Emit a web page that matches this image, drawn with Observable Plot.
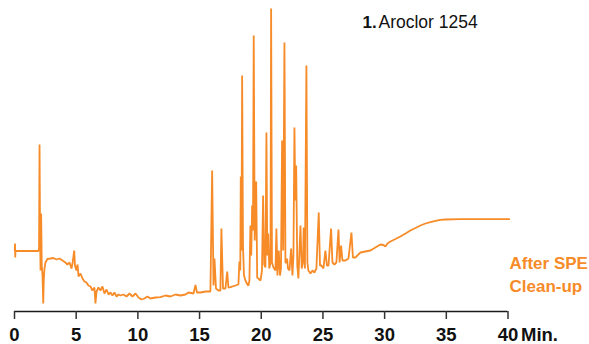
<!DOCTYPE html>
<html>
<head>
<meta charset="utf-8">
<script src="https://cdn.jsdelivr.net/npm/d3@7"></script>
<script src="https://cdn.jsdelivr.net/npm/@observablehq/plot@0.6"></script>
<style>
  html, body { margin: 0; padding: 0; background: #ffffff; }
  #chart svg { display: block; }
</style>
</head>
<body>
<div id="chart"></div>
<script>
// Retention time (minutes)
const timeMin = [
  0.02, 0.04, 0.06, 0.08, 1.94, 1.99, 2.03, 2.07, 2.11, 2.16, 2.21, 2.27, 2.33, 2.37, 2.43, 2.51,
  2.67, 2.92, 3.16, 3.40, 3.65, 3.89, 4.13, 4.29, 4.46, 4.62, 4.70, 4.84, 4.90, 5.02, 5.11, 5.19,
  5.35, 5.51, 5.67, 5.83, 5.99, 6.16, 6.32, 6.48, 6.56, 6.65, 6.81, 6.97, 7.13, 7.29, 7.46, 7.62,
  7.78, 7.94, 8.10, 8.27, 8.43, 8.59, 8.83, 9.08, 9.32, 9.56, 9.81, 10.05, 10.29, 10.53, 10.78, 11.02,
  11.43, 11.83, 12.24, 12.64, 13.05, 13.45, 13.86, 14.10, 14.51, 14.67, 14.79, 15.07, 15.48, 15.88,
  16.02, 16.13, 16.21, 16.33, 16.53, 16.69, 16.77, 16.90, 17.10, 17.24, 17.34, 17.50, 17.91, 18.15,
  18.23, 18.30, 18.34, 18.40, 18.45, 18.52, 18.60, 18.72, 18.88, 18.96, 19.04, 19.12, 19.19, 19.26,
  19.33, 19.39, 19.47, 19.59, 19.67, 19.77, 19.94, 20.06, 20.15, 20.24, 20.34, 20.42, 20.49, 20.56,
  20.65, 20.75, 20.80, 20.87, 20.99, 21.15, 21.23, 21.31, 21.42, 21.52, 21.60, 21.69, 21.78, 21.88,
  21.96, 22.04, 22.10, 22.16, 22.29, 22.42, 22.53, 22.61, 22.69, 22.76, 22.83, 22.92, 23.01, 23.18,
  23.28, 23.38, 23.44, 23.54, 23.66, 23.74, 23.82, 23.99, 24.15, 24.31, 24.47, 24.66, 24.76, 24.88,
  25.04, 25.20, 25.32, 25.45, 25.66, 25.77, 25.93, 26.09, 26.26, 26.35, 26.47, 26.58, 26.82, 27.07,
  27.31, 27.43, 27.63, 28.04, 28.44, 28.85, 29.25, 29.66, 29.90, 30.06, 30.23, 30.47, 30.88, 31.28,
  31.69, 32.09, 32.50, 32.90, 33.31, 33.71, 34.12, 34.52, 34.93, 36.14, 37.76, 39.38, 40.10
];
// Detector response (arbitrary units)
const signal = [
  61, 68, 54, 60.5, 60.5, 63, 167, 81, 41, 98, 46, 36, 8, 31, 43, 49,
  52.5, 53, 53.5, 52, 53, 51, 49, 47, 49, 43, 48, 61, 46, 41, 47, 35,
  38, 33, 30, 29, 26, 25, 21, 24, 8, 20, 24, 21, 25, 18, 22, 17,
  19, 16, 19, 15, 17, 16, 17, 15, 18, 15, 18, 14, 12, 13, 15, 13,
  14, 14.3, 16, 15, 17, 16, 17, 19, 18, 26.5, 19, 19, 20, 20,
  141, 26, 53, 23, 21, 21, 83, 23, 23, 40, 24, 24.3, 26, 27,
  50, 41, 135, 61, 236, 66, 36, 31, 27, 26, 31, 86, 56, 106,
  81, 276, 71, 130, 34, 33, 31, 41, 116, 47, 44, 179, 56, 78,
  43, 49, 303, 49, 44, 41, 83, 36, 61, 36, 43, 171, 61, 269,
  49, 49, 53, 43, 41, 63, 36, 56, 184, 111, 146, 46, 33, 86,
  43, 49, 84, 43, 246, 49, 41, 38, 41, 39, 43, 99, 46, 46,
  43, 61, 46, 46, 83, 49, 47, 49, 82, 49, 66, 51, 51, 53,
  79, 54, 54, 59, 60, 61, 64, 67, 66.5, 65, 68, 70, 72.5, 75,
  78, 81, 83.5, 86, 88, 89.3, 90.7, 91.7, 92, 92.3, 92.3, 92.3, 92.3
];
const xTicks = [0, 5, 10, 15, 20, 25, 30, 35, 40];
const timeUnit = "Min.";
const peakNumber = "1.";
const peakName = "Aroclor 1254";
const traceLabel = "After SPE\nClean-up";

const trace = timeMin.map((t, i) => ({ t, v: signal[i] }));
const orange = "#f68b28";
const font = "'Liberation Sans', Arial, Helvetica, sans-serif";

const chart = Plot.plot({
  width: 589,
  height: 344,
  marginLeft: 14,
  marginRight: 81.5,
  marginTop: 8,
  marginBottom: 33,
  style: { background: "#ffffff", overflow: "visible", fontFamily: font },
  x: { domain: [0, 40] },
  y: { domain: [0, 303], axis: null },
  marks: [
    Plot.line(trace, { x: "t", y: "v", stroke: orange, strokeWidth: 1.8, strokeLinejoin: "miter" }),
    Plot.ruleY([0], { stroke: "#1a1a1a", strokeWidth: 1.6 }),
    Plot.axisX({
      ticks: xTicks, tickSize: 8, tickPadding: 8, label: null,
      stroke: "#333", strokeWidth: 1.5,
      fill: "#111", fontSize: 18.5, fontWeight: "bold", fontFamily: font
    }),
    Plot.text([timeUnit], {
      frameAnchor: "bottom-right", dx: 13, dy: 16, textAnchor: "start", lineAnchor: "top",
      fill: "#111", fontSize: 18.5, fontWeight: "bold", fontFamily: font
    }),
    Plot.text([peakNumber], {
      frameAnchor: "top-left", dx: 348, dy: 7, textAnchor: "start", lineAnchor: "top",
      fill: "#111", fontSize: 17, fontWeight: "bold", fontFamily: font
    }),
    Plot.text([peakName], {
      frameAnchor: "top-left", dx: 364, dy: 7, textAnchor: "start", lineAnchor: "top",
      fill: "#111", fontSize: 17.5, fontFamily: font
    }),
    Plot.text([traceLabel], {
      frameAnchor: "bottom-right", dx: 1.5, dy: -59, textAnchor: "start", lineAnchor: "top",
      lineHeight: 1.35, fill: orange, fontSize: 17, fontWeight: "bold", fontFamily: font
    })
  ]
});
document.getElementById("chart").appendChild(chart);
</script>
</body>
</html>
